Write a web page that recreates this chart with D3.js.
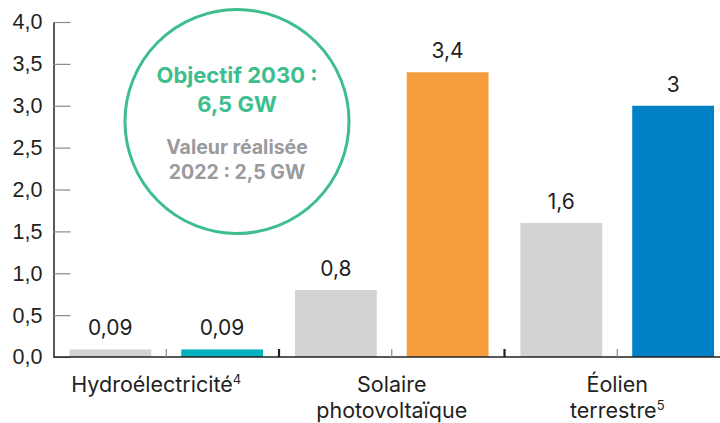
<!DOCTYPE html>
<html>
<head>
<meta charset="utf-8">
<script src="https://cdn.jsdelivr.net/npm/d3@7"></script>
<style>
  body { margin: 0; background: #fff; }
  svg { display: block; font-family: Inter, "Liberation Sans", sans-serif; }
</style>
</head>
<body>
<script>
// categories and values (GW)
const categories = ["Hydroélectricité", "Solaire photovoltaïque", "Éolien terrestre"];
const categoryLines = [["Hydroélectricité"], ["Solaire", "photovoltaïque"], ["Éolien", "terrestre"]];
const footnotes = ["4", "", "5"];
const series = ["Valeur 2022", "Objectif 2030"];
const realised2022 = [0.09, 0.8, 1.6];
const target2030 = [0.09, 3.4, 3.0];
const targetColors = ["#00b1bf", "#f69e3e", "#0081c5"];
const yTicks = [0, 0.5, 1, 1.5, 2, 2.5, 3, 3.5, 4];
const goalLines = ["Objectif 2030 :", "6,5 GW"];
const doneLines = ["Valeur réalisée", "2022 : 2,5 GW"];

const width = 720;
const height = 423;
const margin = { top: 22, right: -10, bottom: 66, left: 53.5 };

const svg = d3.select("body")
  .append("svg")
  .attr("width", width)
  .attr("height", height);

const comma = v => String(v).replace(".", ",");

// y-scale
const yScale = d3.scaleLinear()
  .domain([0, 4])
  .range([height - margin.bottom, margin.top]);

// outer scale: one band per category
const xScale = d3.scaleBand()
  .domain(categories)
  .range([margin.left, width - margin.right]);

// inner scale: 2022 vs 2030 inside a category
const xInner = d3.scaleBand()
  .domain(series)
  .range([0, xScale.bandwidth()])
  .paddingInner(30 / 112)
  .paddingOuter(16 / 112);

const rows = categories.map((c, i) => ({
  cat: c, i: i,
  bars: [
    { s: series[0], v: realised2022[i], color: "#d1d3d4" },
    { s: series[1], v: target2030[i], color: targetColors[i] }
  ]
}));

// bars
const groups = svg.selectAll(".group")
  .data(rows)
  .enter()
  .append("g")
  .attr("transform", d => `translate(${xScale(d.cat)},0)`);

groups.selectAll("rect")
  .data(d => d.bars)
  .enter()
  .append("rect")
  .attr("x", d => xInner(d.s))
  .attr("y", d => yScale(d.v))
  .attr("width", xInner.bandwidth())
  .attr("height", d => yScale(0) - yScale(d.v))
  .attr("fill", d => d.color);

// value labels
groups.selectAll(".val")
  .data(d => d.bars)
  .enter()
  .append("text")
  .attr("x", d => xInner(d.s) + xInner.bandwidth() / 2)
  .attr("y", d => yScale(d.v) - 14)
  .attr("text-anchor", "middle")
  .style("font-size", "21px")
  .style("fill", "#231f20")
  .text(d => comma(d.v));

// y-axis
const yAxis = d3.axisLeft(yScale)
  .tickValues(yTicks)
  .tickSizeInner(-17)
  .tickSizeOuter(0)
  .tickPadding(11)
  .tickFormat(d => d3.format(".1f")(d).replace(".", ","));

const gy = svg.append("g")
  .attr("transform", `translate(${margin.left},0)`)
  .call(yAxis);
gy.select(".domain").attr("stroke", "#231f20").attr("stroke-width", 1.5);
gy.selectAll(".tick line").attr("stroke", "#8a8a8a").attr("stroke-width", 1.2);
gy.selectAll(".tick text")
  .style("font-size", "21.5px")
  .style("font-family", "inherit")
  .attr("fill", "#231f20");

// baseline
svg.append("line")
  .attr("x1", margin.left)
  .attr("x2", width)
  .attr("y1", yScale(0))
  .attr("y2", yScale(0))
  .attr("stroke", "#231f20")
  .attr("stroke-width", 1.5);

// small ticks: centre of each group (thin) and group boundaries (thick)
svg.selectAll(".midTick")
  .data(categories)
  .enter()
  .append("line")
  .attr("x1", d => xScale(d) + xScale.bandwidth() / 2)
  .attr("x2", d => xScale(d) + xScale.bandwidth() / 2)
  .attr("y1", yScale(0))
  .attr("y2", yScale(0) - 8)
  .attr("stroke", "#8a8a8a")
  .attr("stroke-width", 1.2);

svg.selectAll(".sepTick")
  .data(categories.slice(1))
  .enter()
  .append("line")
  .attr("x1", d => xScale(d))
  .attr("x2", d => xScale(d))
  .attr("y1", yScale(0))
  .attr("y2", yScale(0) - 8)
  .attr("stroke", "#231f20")
  .attr("stroke-width", 2.2);

// category labels
const catLabels = svg.selectAll(".catLabel")
  .data(rows)
  .enter()
  .append("text")
  .attr("text-anchor", "middle")
  .attr("transform", d => `translate(${xScale(d.cat) + xScale.bandwidth() / 2 - (d.i === 0 ? 10 : 0)},0)`)
  .style("font-size", "21.5px")
  .style("fill", "#231f20");

catLabels.each(function(d) {
  const t = d3.select(this);
  categoryLines[d.i].forEach((line, k) => {
    t.append("tspan")
      .attr("x", 0)
      .attr("y", yScale(0) + 35 + k * 26)
      .text(line);
    if (k === categoryLines[d.i].length - 1 && footnotes[d.i]) {
      t.append("tspan")
        .attr("dy", -8)
        .style("font-size", "13px")
        .text(footnotes[d.i]);
    }
  });
});

// objective circle
const cx = 237, cy = 121.5, r = 112;
svg.append("circle")
  .attr("cx", cx)
  .attr("cy", cy)
  .attr("r", r)
  .attr("fill", "#fff")
  .attr("stroke", "#3dbe8c")
  .attr("stroke-width", 3);

svg.selectAll(".goal")
  .data(goalLines)
  .enter()
  .append("text")
  .attr("x", cx)
  .attr("y", (d, i) => 83 + i * 29)
  .attr("text-anchor", "middle")
  .style("font-size", "22px")
  .style("font-weight", "bold")
  .style("fill", "#3dbe8c")
  .text(d => d);

svg.selectAll(".done")
  .data(doneLines)
  .enter()
  .append("text")
  .attr("x", cx)
  .attr("y", (d, i) => 154 + i * 25)
  .attr("text-anchor", "middle")
  .style("font-size", "19.5px")
  .style("font-weight", "bold")
  .style("fill", "#9a9a9d")
  .text(d => d);
</script>
</body>
</html>
